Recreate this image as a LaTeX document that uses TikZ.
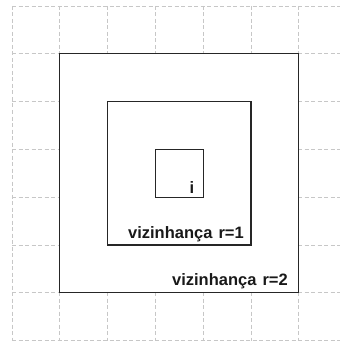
\documentclass[tikz,border=0pt]{standalone}
\usepackage{fontspec}
\setmainfont{Liberation Sans}
\begin{document}
\begin{tikzpicture}[x=1pt,y=-1pt,
  gridline/.style={draw=black!22,line width=0.9pt,dash pattern=on 4pt off 2.5pt},
  sq/.style={draw=black!85,line width=1.3pt,fill=white},
  lbl/.style={inner sep=0pt,font=\fontsize{16.5}{19}\selectfont\bfseries,text=black!90}]
\useasboundingbox[fill=white] (0,0) rectangle (340,342);
\foreach \k in {0,...,6} \draw[gridline] ({12+47.8*\k},6) -- ({12+47.8*\k},341);
\foreach \k in {0,...,7} \draw[gridline] (12,{6+47.8*\k}) -- (340,{6+47.8*\k});
\draw[sq] (59.8,53.8) rectangle (298.8,292.8);
\draw[sq] (107.6,101.6) rectangle (251,245);
\draw[sq] (155.4,149.4) rectangle (203.2,197.2);
\node[lbl,anchor=base] (ci) at (192,193) {i};
\node[lbl,anchor=base east] (r1) at (244,238) {vizinhança\hspace{1.5pt} r=1};
\node[lbl,anchor=base east] (r2) at (288,285) {vizinhança\hspace{1.5pt} r=2};
\end{tikzpicture}
\end{document}
